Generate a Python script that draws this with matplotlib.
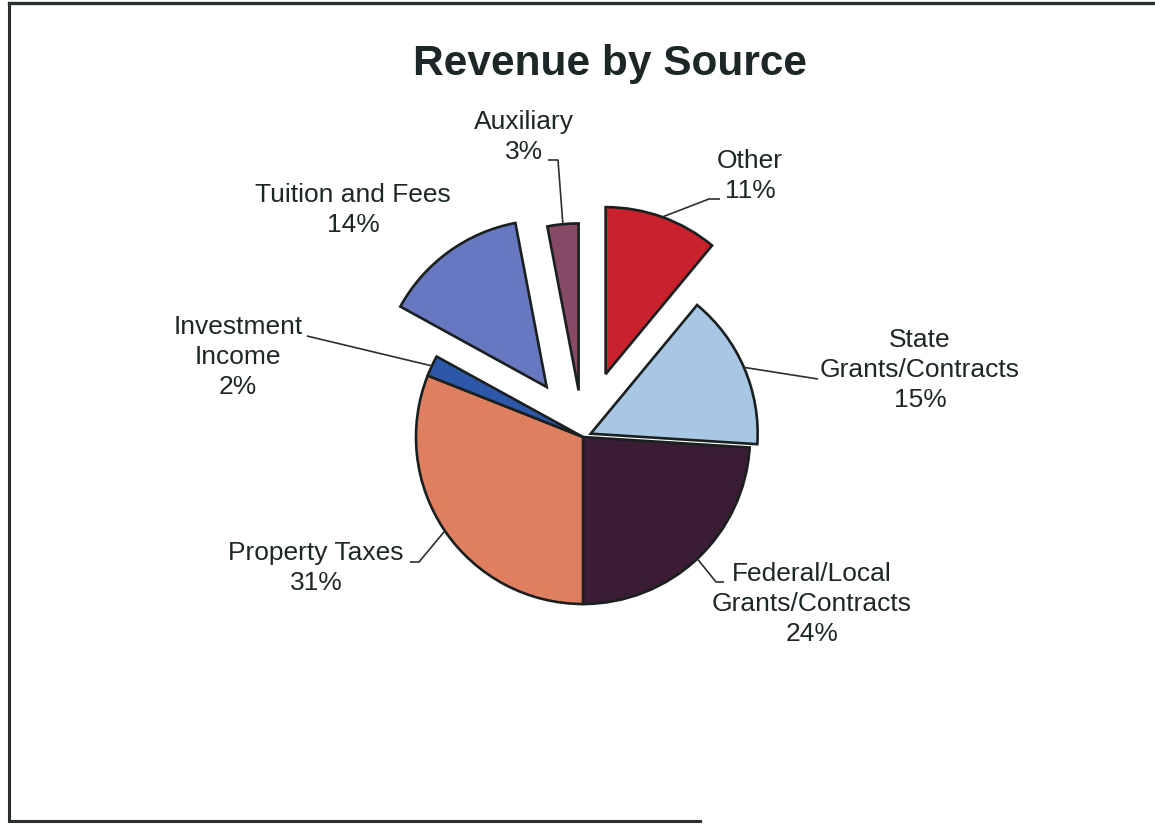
import numpy as np
import matplotlib
matplotlib.use("Agg")
import matplotlib.pyplot as plt

# ---- data ----
categories = ["Other", "State\nGrants/Contracts", "Federal/Local\nGrants/Contracts",
              "Property Taxes", "Investment\nIncome", "Tuition and Fees", "Auxiliary"]
values = [11, 15, 24, 31, 2, 14, 3]
pct_labels = ["11%", "15%", "24%", "31%", "2%", "14%", "3%"]
colors = ["#C9222C", "#A8C7E5", "#3A1C35", "#E07F60", "#2D58AA", "#6778C0", "#874A66"]
explode_frac = [0.40, 0.05, 0.0, 0.0, 0.0, 0.37, 0.28]

# ---- layout (pixel units, y measured downward from top) ----
W, H = 1155, 824
CX, CY, R = 583, 437, 167
label_pos = {
    "Other": (750, 176),
    "State\nGrants/Contracts": (920, 370),
    "Federal/Local\nGrants/Contracts": (812, 604),
    "Property Taxes": (316, 568),
    "Investment\nIncome": (238, 357),
    "Tuition and Fees": (353, 210),
    "Auxiliary": (524, 137),
}
# leader elbows from the text side towards the wedge
leader_pts = {
    "Other": [(720, 199), (709, 199)],
    "State\nGrants/Contracts": [(818, 379)],
    "Federal/Local\nGrants/Contracts": [(724, 582), (716, 582)],
    "Property Taxes": [(410, 562), (419, 562)],
    "Investment\nIncome": [(307, 336)],
    "Auxiliary": [(548, 160), (558, 160)],
}

TXT = "#1e2727"
plt.rcParams['font.family'] = ['Liberation Sans', 'DejaVu Sans']

fig = plt.figure(figsize=(W / 100, H / 100), dpi=100)
ax = fig.add_axes([0, 0, 1, 1])

explode = [e * R for e in explode_frac]
wedges, _ = ax.pie(values, colors=colors, explode=explode, startangle=90,
                   counterclock=False, center=(CX, H - CY), radius=R,
                   wedgeprops=dict(edgecolor="#1a1f1f", linewidth=1.9),
                   frame=True)
ax.set_xlim(0, W)
ax.set_ylim(0, H)
ax.set_aspect('equal')
ax.axis('off')

for w, cat, pct in zip(wedges, categories, pct_labels):
    lx, ly = label_pos[cat]
    ax.text(lx, H - ly, f"{cat}\n{pct}", ha="center", va="center",
            fontsize=19, color=TXT, linespacing=1.3)
    if cat in leader_pts:
        tm = np.deg2rad(0.5 * (w.theta1 + w.theta2))
        ex = w.center[0] + w.r * np.cos(tm)
        ey = w.center[1] + w.r * np.sin(tm)
        pts = leader_pts[cat]
        xs = [p[0] for p in pts] + [ex]
        ys = [H - p[1] for p in pts] + [ey]
        ax.plot(xs, ys, color="#2a2f2f", lw=1.2, solid_capstyle='butt')

ax.text(610, H - 64, "Revenue by Source", ha="center", va="center",
        fontsize=30.5, fontweight="bold", color=TXT)

# scanned frame
ax.plot([9, 9, 700], [H - 3, H - 821, H - 821], color="#2a3030", lw=2.2,
        solid_joinstyle='miter')
ax.plot([9, W], [H - 3, H - 3], color="#2a3030", lw=2.4)

fig.savefig("out.png", dpi=100)
